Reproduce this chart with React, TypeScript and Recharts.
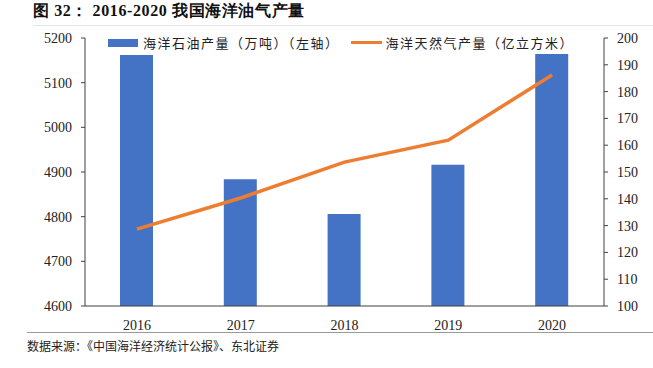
import { ComposedChart, Bar, Line, XAxis, YAxis } from "recharts";

const years = ["2016", "2017", "2018", "2019", "2020"];
const oilOutput = [5162, 4884, 4806, 4916, 5164];
const gasOutput = [128.7, 140.3, 153.7, 161.9, 186.2];
const leftTicks = [4600, 4700, 4800, 4900, 5000, 5100, 5200];
const rightTicks = [100, 110, 120, 130, 140, 150, 160, 170, 180, 190, 200];

const oilName = "海洋石油产量（万吨）（左轴）";
const gasName = "海洋天然气产量（亿立方米）";

const serif = "'Liberation Serif', 'Times New Roman', serif";
const cjk = "'Noto Sans CJK SC', sans-serif";

function ChartLegend() {
  return (
    <div
      style={{
        position: "absolute",
        left: 108,
        top: 33,
        display: "flex",
        alignItems: "center",
        fontFamily: cjk,
        fontSize: 13,
        letterSpacing: 1.5,
        color: "#222",
        whiteSpace: "nowrap",
      }}
    >
      <span
        style={{ width: 30, height: 8, background: "#4472C4", marginRight: 5 }}
      />
      <span style={{ marginRight: 11 }}>{oilName}</span>
      <span
        style={{ width: 31, height: 3, background: "#ED7D31", marginRight: 4 }}
      />
      <span>{gasName}</span>
    </div>
  );
}

export default function App() {
  const data = years.map((y, i) => ({
    year: y,
    oil: oilOutput[i],
    gas: gasOutput[i],
  }));

  return (
    <div
      style={{
        position: "absolute",
        left: 0,
        top: 0,
        width: 653,
        height: 368,
        background: "#fff",
        overflow: "hidden",
      }}
    >
      <div
        style={{
          position: "absolute",
          left: 33,
          top: 1,
          fontFamily: serif,
          fontWeight: "bold",
          fontSize: 16,
          letterSpacing: 0.6,
          color: "#111",
          whiteSpace: "nowrap",
        }}
      >
        图 32： 2016-2020 我国海洋油气产量
      </div>
      <div
        style={{
          position: "absolute",
          left: 33,
          top: 25,
          width: 620,
          height: 1,
          background: "#e4e4e4",
        }}
      />
      <ComposedChart
        width={653}
        height={368}
        data={data}
        margin={{ top: 38, right: 0, bottom: 32, left: 0 }}
      >
        <XAxis
          dataKey="year"
          tickLine={false}
          axisLine={{ stroke: "#404040" }}
          tick={{ fill: "#222", fontSize: 14, fontFamily: serif }}
          tickMargin={8}
          height={30}
        />
        <YAxis
          yAxisId="left"
          domain={[4600, 5200]}
          ticks={leftTicks}
          width={85}
          tickSize={4}
          tickMargin={9}
          axisLine={{ stroke: "#404040" }}
          tickLine={{ stroke: "#404040" }}
          tick={{ fill: "#222", fontSize: 14, fontFamily: serif }}
          allowDataOverflow
        />
        <YAxis
          yAxisId="right"
          orientation="right"
          domain={[100, 200]}
          ticks={rightTicks}
          width={49}
          tickSize={4}
          tickMargin={9}
          axisLine={{ stroke: "#404040" }}
          tickLine={{ stroke: "#404040" }}
          tick={{ fill: "#222", fontSize: 14, fontFamily: serif }}
        />
        <Bar
          yAxisId="left"
          dataKey="oil"
          name={oilName}
          fill="#4472C4"
          barSize={33}
          isAnimationActive={false}
        />
        <Line
          yAxisId="right"
          dataKey="gas"
          name={gasName}
          stroke="#ED7D31"
          strokeWidth={3.5}
          dot={false}
          activeDot={false}
          isAnimationActive={false}
        />
      </ComposedChart>
      <ChartLegend />
      <div
        style={{
          position: "absolute",
          left: 27,
          top: 332,
          width: 626,
          height: 1,
          background: "#9a9a9a",
        }}
      />
      <div
        style={{
          position: "absolute",
          left: 27,
          top: 337,
          fontFamily: cjk,
          fontSize: 12,
          color: "#222",
          whiteSpace: "nowrap",
        }}
      >
        数据来源：《中国海洋经济统计公报》、东北证券
      </div>
    </div>
  );
}
